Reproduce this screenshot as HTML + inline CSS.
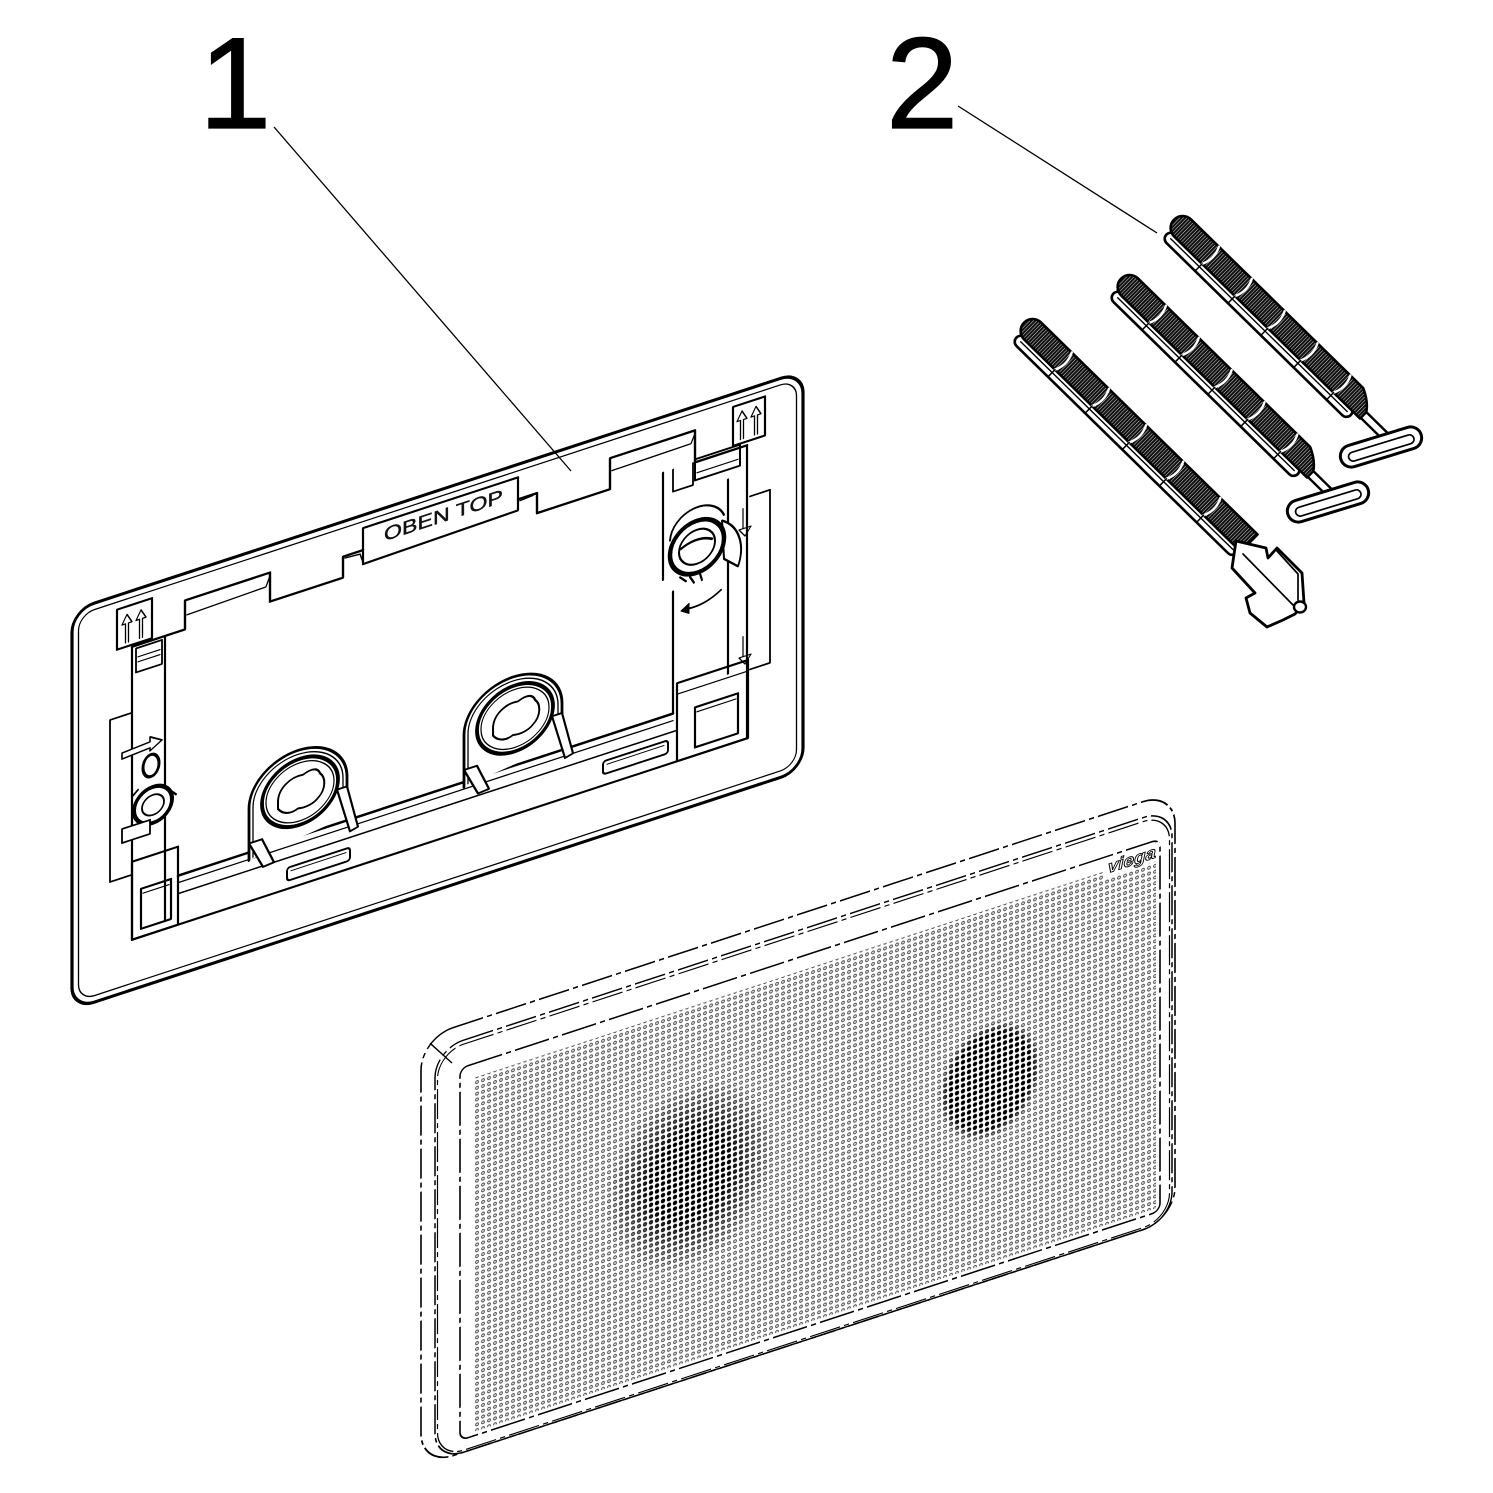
<!DOCTYPE html>
<html><head><meta charset="utf-8"><style>html,body{margin:0;padding:0;background:#fff}svg{display:block}</style></head>
<body>
<svg xmlns="http://www.w3.org/2000/svg" width="1493" height="1493" viewBox="0 0 1493 1493">
<defs>
<pattern id="dots" patternUnits="userSpaceOnUse" width="6" height="5.8"><circle cx="3" cy="2.9" r="1.4" fill="none" stroke="#333" stroke-width="0.9"/></pattern>
<pattern id="ddots" patternUnits="userSpaceOnUse" width="6" height="5.8"><circle cx="3" cy="2.9" r="2.2" fill="#000"/></pattern>
<radialGradient id="rg1"><stop offset="0" stop-color="#fff"/><stop offset="0.45" stop-color="#fff"/><stop offset="1" stop-color="#000"/></radialGradient>
<radialGradient id="rg2"><stop offset="0" stop-color="#fff"/><stop offset="0.8" stop-color="#fff"/><stop offset="1" stop-color="#000"/></radialGradient>
<mask id="mk" maskUnits="userSpaceOnUse" maskContentUnits="userSpaceOnUse" x="400" y="1150" width="800" height="500">
<rect x="400" y="1150" width="800" height="500" fill="#000"/>
<ellipse cx="690" cy="1402" rx="85" ry="92" fill="url(#rg1)"/>
<ellipse cx="990" cy="1405" rx="52" ry="58" fill="url(#rg2)"/>
</mask>
<pattern id="thr" patternUnits="userSpaceOnUse" width="2.6" height="40"><rect width="2.6" height="40" fill="#fff"/><rect width="2.2" height="40" fill="#111"/></pattern>
</defs>

<!-- Labels -->
<text x="199" y="128" font-family="Liberation Sans, Arial, sans-serif" font-size="130" fill="#000" stroke="#000" stroke-width="1.2">1</text>
<text x="886" y="128" font-family="Liberation Sans, Arial, sans-serif" font-size="130" fill="#000" stroke="#000" stroke-width="1.2">2</text>
<line x1="274" y1="127" x2="571" y2="471" stroke="#000" stroke-width="1.3"/>
<line x1="958" y1="106" x2="1157" y2="233" stroke="#000" stroke-width="1.3"/>

<!-- FRAME (part 1) -->
<g transform="matrix(1,-0.3275,0,1,0,0)" fill="none" stroke="#000" stroke-linejoin="round" stroke-linecap="round">
<rect x="72" y="634" width="731" height="399" rx="22" stroke-width="3.2"/>
<rect x="78.5" y="640.5" width="718" height="386" rx="16" stroke-width="1.3"/>
<path stroke-width="2.4" d="M132,690 L185,690 L185,661 L270,661 L270,690 L343,690 L343,669 L363,669 M518,669 L537,669 L537,689 L610,689 L610,658 L695,658 L695,690 L747,690"/>
<path stroke-width="1.4" d="M187,676 L266,674 L270,664 M612,671 L691,670 L695,661"/>
<path stroke-width="2.2" d="M363,683 L363,647 L518,647 L518,680 Z"/>
<path stroke-width="1.4" d="M345,671 L360,672 L363,681 M520,671 L533,670"/>
<text x="384" y="667" font-size="19" textLength="119" lengthAdjust="spacingAndGlyphs" fill="#111" stroke="#111" stroke-width="0.4" font-family="Liberation Sans, Arial, sans-serif">OBEN TOP</text>
<rect x="117" y="648" width="35" height="40" stroke-width="2.2"/>
<path stroke-width="1.3" d="M125.5,684 L125.5,665 L122,665 L127,656 L132,665 L128.5,665 L128.5,684 M139.5,684 L139.5,665 L136,665 L141,656 L146,665 L142.5,665 L142.5,684"/>
<rect x="733" y="647" width="32" height="39" stroke-width="2.2"/>
<path stroke-width="1.3" d="M740.5,682 L740.5,663 L737,663 L742,654 L747,663 L743.5,663 L743.5,682 M754.5,682 L754.5,663 L751,663 L756,654 L761,663 L757.5,663 L757.5,682"/>

<!-- left column -->
<path stroke-width="2.2" d="M132,690 L132,983 M165,690 L165,975"/>
<rect x="136" y="693" width="26" height="24" stroke-width="1.8"/>
<path stroke-width="1.2" d="M138,702 L160,702 M138,707 L160,707"/>
<path stroke-width="1.8" d="M132,756 L110,756 L110,918 L132,918"/>
<path stroke-width="1.6" fill="#fff" d="M122,793 L150,791 L150,786 L162,793 L150,800 L150,797 L122,799 Z"/>
<ellipse cx="151" cy="815" rx="8" ry="11" stroke-width="3" fill="#fff"/>
<ellipse cx="153" cy="855" rx="19" ry="18" stroke-width="4" fill="#fff"/>
<ellipse cx="153" cy="855" rx="11" ry="10" stroke-width="1.8"/>
<path stroke-width="2" d="M132,840 L138,835 M170,846 L176,852"/>
<rect x="122" y="869" width="28" height="14" stroke-width="1.8" fill="#fff"/>
<rect x="132" y="905" width="46" height="78" stroke-width="2.2"/>
<rect x="141" y="935" width="30" height="40" stroke-width="2.2"/>
<line x1="143" y1="940" x2="169" y2="940" stroke-width="1.2"/>

<!-- right column -->
<path stroke-width="2.2" d="M663,690 L663,797 M673,812 L673,934 M747,690 L747,983 M728,718 L728,912"/>
<path stroke-width="1.8" d="M673,690 L673,712 L693,712 L693,690"/>
<rect x="695" y="687" width="45" height="21" stroke-width="2"/>
<line x1="697" y1="701" x2="738" y2="701" stroke-width="1.2"/>
<path stroke-width="1.8" d="M750,742 L770,742 L770,915 L750,915"/>
<path stroke-width="1.2" d="M743,752 L743,772 M747,752 L747,772 M739,772 L745,780 L751,772 Z M743,880 L743,900 M747,880 L747,900 M739,900 L745,908 L751,900 Z"/>
<path stroke-width="2" d="M670,760 A28,26 0 0 1 724,752"/>
<path stroke-width="2" fill="#fff" d="M722,757 C740,768 745,790 738,808 L724,796 Z"/>
<ellipse cx="697" cy="775" rx="27" ry="26" stroke-width="4.5" fill="#fff"/>
<ellipse cx="697" cy="775" rx="18" ry="17" stroke-width="2"/>
<path stroke-width="2.5" d="M681,772 Q697,764 712,772"/>
<path stroke-width="2" d="M680,800 L686,806 M690,803 L694,810 M700,803 L702,810"/>
<path stroke-width="2" d="M721,826 Q705,836 688,834"/>
<path d="M689,829 L681,834 L689,839 Z" fill="#000" stroke-width="1"/>
<rect x="677" y="905" width="71" height="78" stroke-width="2.2"/>
<line x1="677" y1="916" x2="748" y2="916" stroke-width="1.3"/>
<rect x="695" y="935" width="43" height="40" stroke-width="2.2"/>
<line x1="697" y1="940" x2="736" y2="940" stroke-width="1.2"/>

<!-- bottom rail -->
<path stroke-width="2.6" d="M178,934 L673,934"/>
<path stroke-width="1.3" d="M178,941 L673,941"/>
<path stroke-width="1.6" d="M178,952 L677,952"/>
<path stroke-width="2.2" d="M132,983 L748,983"/>
<rect x="287" y="962" width="63" height="13" rx="3" stroke-width="2"/>
<line x1="291" y1="966" x2="346" y2="966" stroke-width="1"/>
<rect x="603" y="959" width="65" height="13" rx="3" stroke-width="2"/>
<line x1="607" y1="963" x2="664" y2="963" stroke-width="1"/>

<!-- clip 1 -->
<path fill="#fff" stroke="none" d="M249,942 L249,890 A49,42 0 0 1 347,890 L347,930 Z"/>
<path stroke-width="2.8" d="M249,942 L249,890 A49,42 0 0 1 347,890 L347,918"/>
<path stroke-width="1.3" d="M253,940 L253,890 A45,38 0 0 1 343,890 L343,916"/>
<ellipse cx="300" cy="890" rx="38" ry="33" stroke-width="3.8"/>
<ellipse cx="300" cy="890" rx="34" ry="29" stroke-width="1.2"/>
<path stroke-width="2" d="M278,893 C278,880 290,872 303,874 C312,870 318,872 320,878 C326,884 326,896 318,902 C314,906 306,908 298,906 C290,910 282,906 278,900 Z"/>
<path stroke-width="2" fill="#fff" d="M249,925 L262,925 L274,952 L263,953 Z"/>
<path stroke-width="2" fill="#fff" d="M337,900 L347,900 L358,944 L350,946 Z"/>

<!-- clip 2 -->
<path fill="#fff" stroke="none" d="M464,939 L464,887 A49,42 0 0 1 562,887 L562,927 Z"/>
<path stroke-width="2.8" d="M464,939 L464,887 A49,42 0 0 1 562,887 L562,915"/>
<path stroke-width="1.3" d="M468,937 L468,887 A45,38 0 0 1 558,887 L558,913"/>
<ellipse cx="515" cy="887" rx="38" ry="33" stroke-width="3.8"/>
<ellipse cx="515" cy="887" rx="34" ry="29" stroke-width="1.2"/>
<path stroke-width="2" d="M493,890 C493,877 505,869 518,871 C527,867 533,869 535,875 C541,881 541,893 533,899 C529,903 521,905 513,903 C505,907 497,903 493,897 Z"/>
<path stroke-width="2" fill="#fff" d="M464,922 L477,922 L489,949 L478,950 Z"/>
<path stroke-width="2" fill="#fff" d="M552,897 L562,897 L573,941 L565,943 Z"/>
</g>

<!-- PLATE (phantom) -->
<g transform="matrix(1,-0.3275,0,1,0,0)" fill="none" stroke="#000">
<rect x="421" y="1176" width="754" height="428" rx="32" stroke-width="1.6" stroke-dasharray="30 4 5 4"/>
<rect x="435" y="1192" width="737" height="412" rx="28" stroke-width="1.5" stroke-dasharray="30 4 5 4"/>
<rect x="437.5" y="1196" width="732" height="406" rx="26" stroke-width="1.2" stroke-dasharray="30 4 5 4"/>
<rect x="460" y="1219" width="700" height="372" rx="8" stroke-width="1.6" stroke-dasharray="34 4 5 4"/>
<line x1="430" y1="1184" x2="452" y2="1211" stroke-width="1.2"/>
<rect x="474" y="1233" width="682" height="354" fill="url(#dots)" stroke="none"/>
<rect x="474" y="1233" width="682" height="354" fill="url(#ddots)" stroke="none" mask="url(#mk)"/>
<rect x="1104" y="1221" width="55" height="19" fill="#fff" stroke="none"/>
<text x="1108" y="1236" font-size="17" font-weight="bold" font-style="italic" fill="#fff" stroke="#000" stroke-width="0.9" textLength="48" lengthAdjust="spacingAndGlyphs" font-family="Liberation Sans, Arial, sans-serif">viega</text>
</g>

<!-- PINS (part 2) -->
<g stroke="#000" stroke-linejoin="round" stroke-linecap="round">
<!-- pin A -->
<g transform="translate(1172,226) rotate(44.4)">
<rect x="262" y="-3" width="42" height="8" fill="#fff" stroke-width="2.4"/>
<rect x="2" y="4" width="258" height="12" rx="6" fill="#fff" stroke-width="2.6"/>
<line x1="8" y1="10" x2="255" y2="10" stroke-width="1.4"/>
<path d="M9,-18 L250,-18 Q263,-12 269,-3 L269,6 L9,6 A12,12 0 0 1 9,-18 Z" fill="url(#thr)" stroke-width="2.6"/>
<path d="M48,-18 Q54,-6 48,6 M94,-18 Q100,-6 94,6 M140,-18 Q146,-6 140,6 M186,-18 Q192,-6 186,6 M232,-18 Q238,-6 232,6" stroke="#fff" stroke-width="2.4" fill="none"/>
<path d="M48,6 L48,16 M94,6 L94,16 M140,6 L140,16 M186,6 L186,16 M232,6 L232,16" stroke-width="1.5" fill="none"/>
</g>
<g transform="translate(1381,447) rotate(-17)"><rect x="-42" y="-11" width="84" height="22" rx="11" fill="#fff" stroke-width="3"/><rect x="-34" y="-3.5" width="68" height="9" rx="4.5" stroke-width="1.7" fill="none"/></g>

<!-- pin B -->
<g transform="translate(1119,285) rotate(44.4)">
<rect x="262" y="-3" width="42" height="8" fill="#fff" stroke-width="2.4"/>
<rect x="2" y="4" width="258" height="12" rx="6" fill="#fff" stroke-width="2.6"/>
<line x1="8" y1="10" x2="255" y2="10" stroke-width="1.4"/>
<path d="M9,-18 L250,-18 Q263,-12 269,-3 L269,6 L9,6 A12,12 0 0 1 9,-18 Z" fill="url(#thr)" stroke-width="2.6"/>
<path d="M48,-18 Q54,-6 48,6 M94,-18 Q100,-6 94,6 M140,-18 Q146,-6 140,6 M186,-18 Q192,-6 186,6 M232,-18 Q238,-6 232,6" stroke="#fff" stroke-width="2.4" fill="none"/>
<path d="M48,6 L48,16 M94,6 L94,16 M140,6 L140,16 M186,6 L186,16 M232,6 L232,16" stroke-width="1.5" fill="none"/>
</g>
<g transform="translate(1328,502) rotate(-17)"><rect x="-42" y="-11" width="84" height="22" rx="11" fill="#fff" stroke-width="3"/><rect x="-34" y="-3.5" width="68" height="9" rx="4.5" stroke-width="1.7" fill="none"/></g>

<!-- pin C -->
<g transform="translate(1022,329) rotate(44.4)">
<rect x="2" y="4" width="308" height="12" rx="6" fill="#fff" stroke-width="2.6"/>
<line x1="8" y1="10" x2="305" y2="10" stroke-width="1.4"/>
<path d="M9,-18 L312,-18 L312,6 L9,6 A12,12 0 0 1 9,-18 Z" fill="url(#thr)" stroke-width="2.6"/>
<path d="M52,-18 Q58,-6 52,6 M104,-18 Q110,-6 104,6 M156,-18 Q162,-6 156,6 M208,-18 Q214,-6 208,6 M260,-18 Q266,-6 260,6" stroke="#fff" stroke-width="2.4" fill="none"/>
<path d="M52,6 L52,16 M104,6 L104,16 M156,6 L156,16 M208,6 L208,16 M260,6 L260,16" stroke-width="1.5" fill="none"/>
</g>
<path fill="#fff" stroke-width="2.8" d="M1236,541 L1266,548 L1268,558 L1277,548 L1302,573 L1304,603 L1295,614 L1283,620 L1267,627 L1250,613 L1246,598 L1255,593 L1232,568 Z"/>
<path fill="none" stroke-width="1.7" d="M1243,554 L1294,606 M1277,551 L1298,574 L1298,600"/>
<ellipse cx="1300" cy="607" rx="6" ry="5.5" fill="#fff" stroke-width="2.4"/>
</g>
</svg>
</body></html>
